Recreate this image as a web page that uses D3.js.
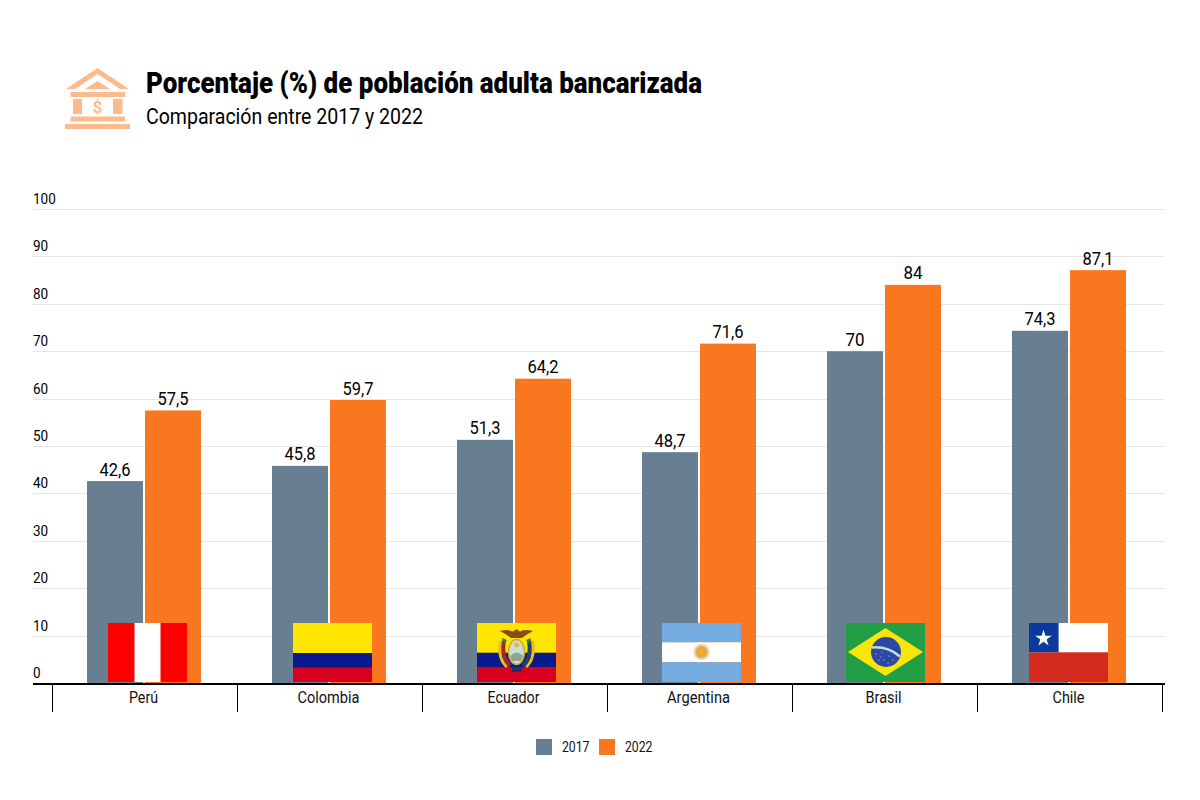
<!DOCTYPE html>
<html><head><meta charset="utf-8">
<script src="https://cdn.jsdelivr.net/npm/d3@7/dist/d3.min.js"></script>
<style>html,body{margin:0;background:#fff}svg{display:block}text{font-family:Roboto,"Noto Sans",sans-serif}</style>
</head><body><svg id="c" width="1200" height="800"></svg>
<script>
const categories=["Perú","Colombia","Ecuador","Argentina","Brasil","Chile"];
const values2017=[42.6,45.8,51.3,48.7,70,74.3];
const values2022=[57.5,59.7,64.2,71.6,84,87.1];
const labels2017=["42,6","45,8","51,3","48,7","70","74,3"];
const labels2022=["57,5","59,7","64,2","71,6","84","87,1"];
const yTicks=[0,10,20,30,40,50,60,70,80,90,100];
const seriesNames=["2017","2022"];
const colors=["#687f92","#f8771f"];

const svg=d3.select("#c");
const y=d3.scaleLinear().domain([0,100]).range([683,209]);
const x=d3.scaleBand().domain(categories).range([52.5,1162.5]);
const sub=d3.scaleBand().domain(seriesNames).range([0,114]).paddingInner(0.035);
const left=33,right=1165;

function fit(sel,w){sel.attr("textLength",w).attr("lengthAdjust","spacingAndGlyphs");return sel;}

// header
const icon=svg.append("g").attr("fill","#fdba8c");
icon.append("path").attr("d","M66 89 L97.5 68 L129 89 L120 89 L97.5 74 L75 89 Z");
icon.append("path").attr("d","M85 89 L97.5 81 L110 89 Z");
icon.append("rect").attr("x",70.5).attr("y",92).attr("width",54.5).attr("height",5);
icon.append("rect").attr("x",73).attr("y",99).attr("width",9).attr("height",15);
icon.append("rect").attr("x",113).attr("y",99).attr("width",9.5).attr("height",15);
icon.append("text").attr("x",97.5).attr("y",112.5).attr("text-anchor","middle").attr("font-size",17).attr("font-weight",700).text("$");
icon.append("rect").attr("x",70.5).attr("y",116.5).attr("width",54.5).attr("height",5);
icon.append("rect").attr("x",65).attr("y",124).attr("width",65).attr("height",5);
fit(svg.append("text").attr("x",146).attr("y",93).attr("font-size",29).attr("font-weight",900).attr("fill","#000").text("Porcentaje (%) de población adulta bancarizada"),556);
fit(svg.append("text").attr("x",146).attr("y",124).attr("font-size",22).attr("fill","#000").text("Comparación entre 2017 y 2022"),277);

// grid
svg.append("g").selectAll("line").data(yTicks.filter(d=>d>0)).join("line")
 .attr("x1",left).attr("x2",right).attr("y1",d=>Math.round(y(d))+.5).attr("y2",d=>Math.round(y(d))+.5)
 .attr("stroke","#e6e6e6");
svg.append("g").selectAll("text").data(yTicks).join("text")
 .attr("x",left).attr("y",d=>y(d)-5).attr("font-size",15).attr("fill","#000").text(d=>d)
 .each(function(d){d3.select(this).attr("textLength",String(d).length*7.6).attr("lengthAdjust","spacingAndGlyphs")});

// bars
const groups=svg.append("g").selectAll("g").data(categories).join("g")
 .attr("transform",d=>`translate(${x(d)+x.bandwidth()/2-58},0)`);
[values2017,values2022].forEach((vals,s)=>{
  const lab=s?labels2022:labels2017;
  groups.append("rect").attr("x",sub(seriesNames[s])).attr("y",(d,i)=>y(vals[i])).attr("width",sub.bandwidth())
    .attr("height",(d,i)=>y(0)-y(vals[i])).attr("fill",colors[s]);
  groups.append("text").attr("x",sub(seriesNames[s])+sub.bandwidth()/2).attr("y",(d,i)=>y(vals[i])-5.5)
    .attr("text-anchor","middle").attr("font-size",19).attr("fill","#000").text((d,i)=>lab[i])
    .each(function(d,i){d3.select(this).attr("textLength",lab[i].length>2?31:19).attr("lengthAdjust","spacingAndGlyphs")});
});

// axis
svg.append("line").attr("x1",left).attr("x2",right).attr("y1",684).attr("y2",684).attr("stroke","#000").attr("stroke-width",2);
const edges=categories.map(c=>x(c)).concat(x.range()[1]);
svg.append("g").selectAll("line").data(edges).join("line").attr("x1",d=>d).attr("x2",d=>d).attr("y1",684).attr("y2",712).attr("stroke","#000");
const catW={"Perú":29,"Colombia":62,"Ecuador":52,"Argentina":63,"Brasil":36,"Chile":32};
svg.append("g").selectAll("text").data(categories).join("text")
 .attr("x",d=>x(d)+x.bandwidth()/2-1.5).attr("y",703).attr("text-anchor","middle").attr("font-size",16).attr("fill","#111")
 .attr("textLength",d=>catW[d]).attr("lengthAdjust","spacingAndGlyphs").text(d=>d);

// flags (left edges: spacing is not uniform)
const fw=79,fh=59;
const flagLeft={"Perú":108,"Colombia":293,"Ecuador":477,"Argentina":662,"Brasil":846,"Chile":1029};
const flag=svg.append("g").selectAll("g").data(categories).join("g")
 .attr("transform",d=>`translate(${flagLeft[d]},623)`);
const R=(g,a,b,w,h,c)=>g.append("rect").attr("x",a).attr("y",b).attr("width",w).attr("height",h).attr("fill",c);
flag.each(function(name){
 const g=d3.select(this);
 if(name==="Perú"){R(g,0,0,fw,fh,"#ff0000");R(g,26.5,0,26,fh,"#fff");}
 if(name==="Colombia"){R(g,0,0,fw,30,"#fee600");R(g,0,30,fw,15,"#0a1a8c");R(g,0,44.5,fw,14.5,"#d7001e");}
 if(name==="Ecuador"){
  R(g,0,0,fw,30,"#fee600");R(g,0,29.7,fw,15,"#0a1a8c");R(g,0,44.3,fw,14.7,"#d7001e");
  g.append("path").attr("d","M23 8 Q31 6 36 8.500 L39.500 6 L43 8.500 Q48 6 56 8 Q50 11 45 15 L34 15 Q29 11 23 8 Z").attr("fill","#8a4b1a");
  g.append("path").attr("d","M26 17 L23 20 Q21 36 30 44").attr("fill","none").attr("stroke","#e8c21a").attr("stroke-width",3);
  g.append("path").attr("d","M53 17 L56 20 Q58 36 49 44").attr("fill","none").attr("stroke","#e8c21a").attr("stroke-width",3);
  g.append("path").attr("d","M27 18 Q24 34 33 43").attr("fill","none").attr("stroke","#a8252b").attr("stroke-width",4);
  g.append("path").attr("d","M52 18 Q55 34 46 43").attr("fill","none").attr("stroke","#22406a").attr("stroke-width",4);
  g.append("path").attr("d","M25 15 L27 21 L30 17 Z M54 15 L52 21 L49 17 Z").attr("fill","#2f7d3b");
  g.append("ellipse").attr("cx",39.500).attr("cy",29).attr("rx",8).attr("ry",12.5).attr("fill","#c9dcd8").attr("stroke","#c9a92e").attr("stroke-width",1.5);
  g.append("path").attr("d","M33 33 Q40 26 46 33 L44 38 L35 38 Z").attr("fill","#8fa88a");
  g.append("circle").attr("cx",39.500).attr("cy",22).attr("r",2.500).attr("fill","#e3b93a");
  g.append("rect").attr("x",35).attr("y",44).attr("width",10).attr("height",5).attr("fill","#23306e");
 }
 if(name==="Argentina"){
  R(g,0,0,fw,19.3,"#74acdf");R(g,0,19.3,fw,20,"#fff");R(g,0,39.3,fw,19.7,"#74acdf");
  g.append("circle").attr("cx",39.5).attr("cy",29).attr("r",8).attr("fill","#f0d5a0");
  g.append("circle").attr("cx",39.5).attr("cy",29).attr("r",6).attr("fill","#dfa85a");
  g.append("circle").attr("cx",39.5).attr("cy",29).attr("r",3.5).attr("fill","#f0ab2a");
 }
 if(name==="Brasil"){
  R(g,0,0,fw,fh,"#229e45");
  g.append("path").attr("d","M2 29 L39.500 5 L77 29 L39.500 53 Z").attr("fill","#f8e509");
  g.append("circle").attr("cx",40).attr("cy",29).attr("r",15).attr("fill","#2b49a3");
  g.append("path").attr("d","M25.500 24.500 Q42 23 54 33.500").attr("fill","none").attr("stroke","#c8dcd8").attr("stroke-width",2.5);
  g.append("g").selectAll("circle").data([[30,31],[35,34],[38,37],[43,33],[47,37],[42,40],[33,37],[36,29]]).join("circle")
   .attr("cx",d=>d[0]).attr("cy",d=>d[1]).attr("r",.6).attr("fill","#dfe8f5");
 }
 if(name==="Chile"){
  R(g,0,0,fw,fh,"#fff");R(g,0,29.3,fw,29.7,"#d52b1e");R(g,0,0,29.6,29.3,"#0b3a9e");
  g.append("path").attr("d",d3.symbol(d3.symbolStar,85)).attr("transform","translate(14.5,15.5)").attr("fill","#fff");
 }
});

// legend
const lx=[536,599],tx=[562,625];
seriesNames.forEach((s,i)=>{
 svg.append("rect").attr("x",lx[i]).attr("y",739).attr("width",16).attr("height",16).attr("fill",colors[i]);
 svg.append("text").attr("x",tx[i]).attr("y",752).attr("font-size",15).attr("fill","#111").attr("textLength",27.5).attr("lengthAdjust","spacingAndGlyphs").text(s);
});
</script></body></html>
